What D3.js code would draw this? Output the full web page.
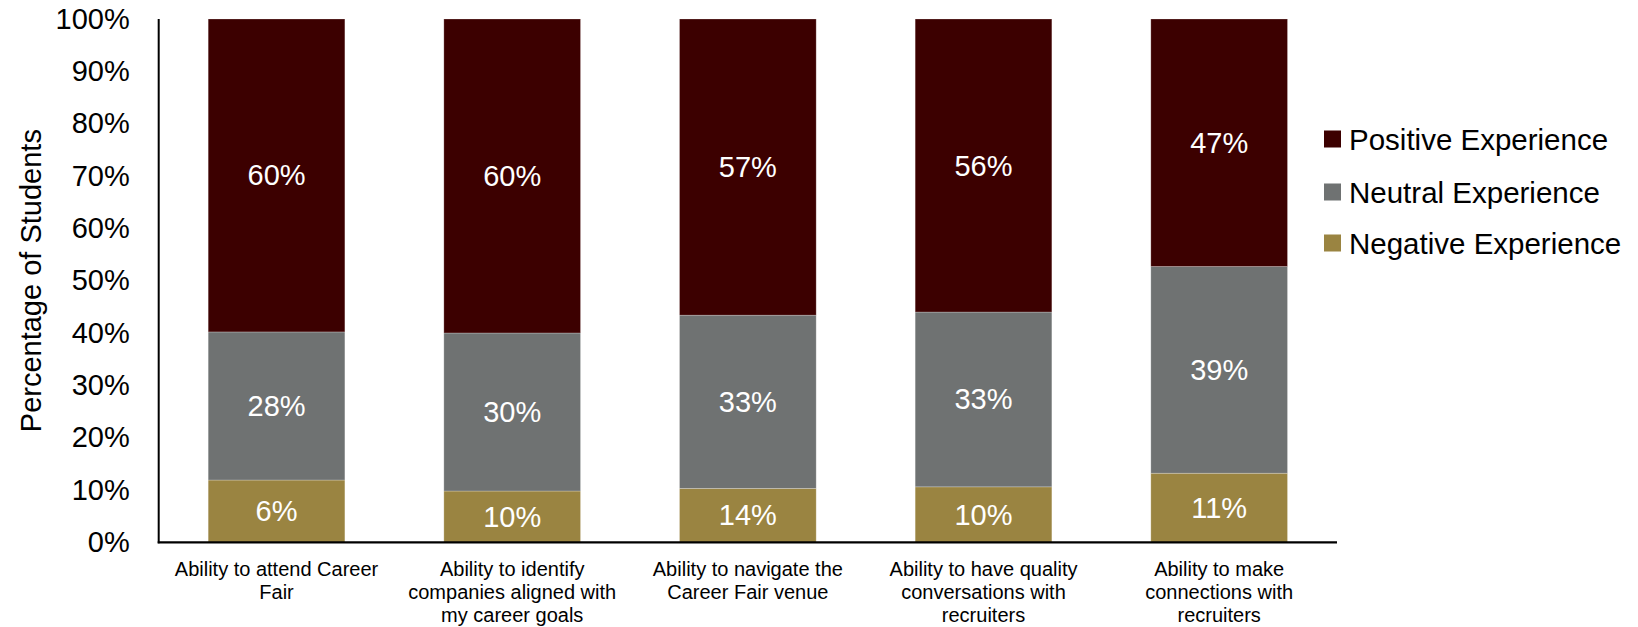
<!DOCTYPE html>
<html>
<head>
<meta charset="utf-8">
<script src="https://cdn.jsdelivr.net/npm/d3@7"></script>
<style>
  html, body { margin: 0; padding: 0; background: #fff; }
  svg { display: block; font-family: "Liberation Sans", Arial, sans-serif; }
</style>
</head>
<body>
<svg id="chart" width="1638" height="627"></svg>
<script>
// ---- data ----
const categories = [
  "Ability to attend Career|Fair",
  "Ability to identify|companies aligned with|my career goals",
  "Ability to navigate the|Career Fair venue",
  "Ability to have quality|conversations with|recruiters",
  "Ability to make|connections with|recruiters"
];
const seriesNames = ["Negative Experience", "Neutral Experience", "Positive Experience"];
// segment sizes as drawn (percent of bar height)
const negativeValues = [11.9, 9.8, 10.3, 10.6, 13.2];
const neutralValues  = [28.3, 30.2, 33.1, 33.4, 39.5];
const positiveValues = [59.8, 60.0, 56.6, 56.0, 47.3];
// data labels as printed on the bars
const negativeLabels = ["6%", "10%", "14%", "10%", "11%"];
const neutralLabels  = ["28%", "30%", "33%", "33%", "39%"];
const positiveLabels = ["60%", "60%", "57%", "56%", "47%"];
const yTicks = [0, 10, 20, 30, 40, 50, 60, 70, 80, 90, 100];
const colors = ["#9a8441", "#6f7272", "#3c0000"];

// ---- build ----
const keys = ["neg", "neu", "pos"];
const rows = categories.map((c, i) => ({
  cat: c, neg: negativeValues[i], neu: neutralValues[i], pos: positiveValues[i],
  labels: { neg: negativeLabels[i], neu: neutralLabels[i], pos: positiveLabels[i] }
}));
const stacked = d3.stack().keys(keys)(rows);

const svg = d3.select("#chart");
const x0 = 158.7, x1 = 1337, yBase = 542.3, yTop = 19;

const x = d3.scaleBand().domain(categories).range([x0, x1]).paddingInner(0.42).paddingOuter(0.21);
const y = d3.scaleLinear().domain([0, 100]).range([yBase, yTop]);
const color = d3.scaleOrdinal().domain(keys).range(colors);

// bars
const layers = svg.append("g").selectAll("g").data(stacked).join("g")
  .attr("fill", d => color(d.key));
layers.selectAll("rect").data(d => d.map(v => Object.assign(v, { key: d.key }))).join("rect")
  .attr("x", d => x(d.data.cat))
  .attr("width", x.bandwidth())
  .attr("y", d => y(d[1]))
  .attr("height", d => y(d[0]) - y(d[1]))
  .attr("stroke", "rgba(255,255,255,0.3)")
  .attr("stroke-width", 0.8);

// data labels
const lbl = svg.append("g");
stacked.forEach(layer => {
  layer.forEach(d => {
    lbl.append("text")
      .attr("x", x(d.data.cat) + x.bandwidth() / 2)
      .attr("y", (y(d[0]) + y(d[1])) / 2)
      .attr("text-anchor", "middle")
      .attr("dominant-baseline", "central")
      .attr("fill", "#ffffff")
      .attr("font-size", 29)
      .text(d.data.labels[layer.key]);
  });
});

// y axis
const yAxis = d3.axisLeft(y).tickValues(yTicks).tickFormat(d => d + "%").tickSize(0).tickPadding(29);
const gy = svg.append("g").attr("transform", `translate(${x0},0)`).call(yAxis);
gy.select(".domain").remove();
gy.selectAll("text").attr("font-size", 29).attr("fill", "#000")
  .attr("font-family", "'Liberation Sans', Arial, sans-serif");

svg.append("line").attr("x1", x0).attr("x2", x0).attr("y1", yTop).attr("y2", yBase + 1)
  .attr("stroke", "#000").attr("stroke-width", 2);
svg.append("line").attr("x1", x0 - 1).attr("x2", x1).attr("y1", yBase).attr("y2", yBase)
  .attr("stroke", "#000").attr("stroke-width", 2.2);

// x labels
const xl = svg.append("g");
categories.forEach(c => {
  const t = xl.append("text")
    .attr("x", x(c) + x.bandwidth() / 2)
    .attr("y", 576)
    .attr("text-anchor", "middle")
    .attr("font-size", 20)
    .attr("fill", "#000");
  c.split("|").forEach((line, i) => {
    t.append("tspan").attr("x", x(c) + x.bandwidth() / 2).attr("dy", i === 0 ? 0 : 22.8).text(line);
  });
});

// y axis title
svg.append("text")
  .attr("transform", `translate(31,${(yBase + yTop) / 2}) rotate(-90)`)
  .attr("text-anchor", "middle")
  .attr("dominant-baseline", "central")
  .attr("font-size", 29)
  .attr("fill", "#000")
  .text("Percentage of Students");

// legend (top to bottom: Positive, Neutral, Negative)
const legendOrder = [2, 1, 0];
const legendY = [139, 192, 243];
const lg = svg.append("g");
legendOrder.forEach((si, i) => {
  lg.append("rect").attr("x", 1324).attr("y", legendY[i] - 8.5).attr("width", 17).attr("height", 17)
    .attr("fill", colors[si]);
  lg.append("text").attr("x", 1349).attr("y", legendY[i])
    .attr("dominant-baseline", "central")
    .attr("font-size", 29.5).attr("fill", "#000")
    .text(seriesNames[si]);
});
</script>
</body>
</html>
